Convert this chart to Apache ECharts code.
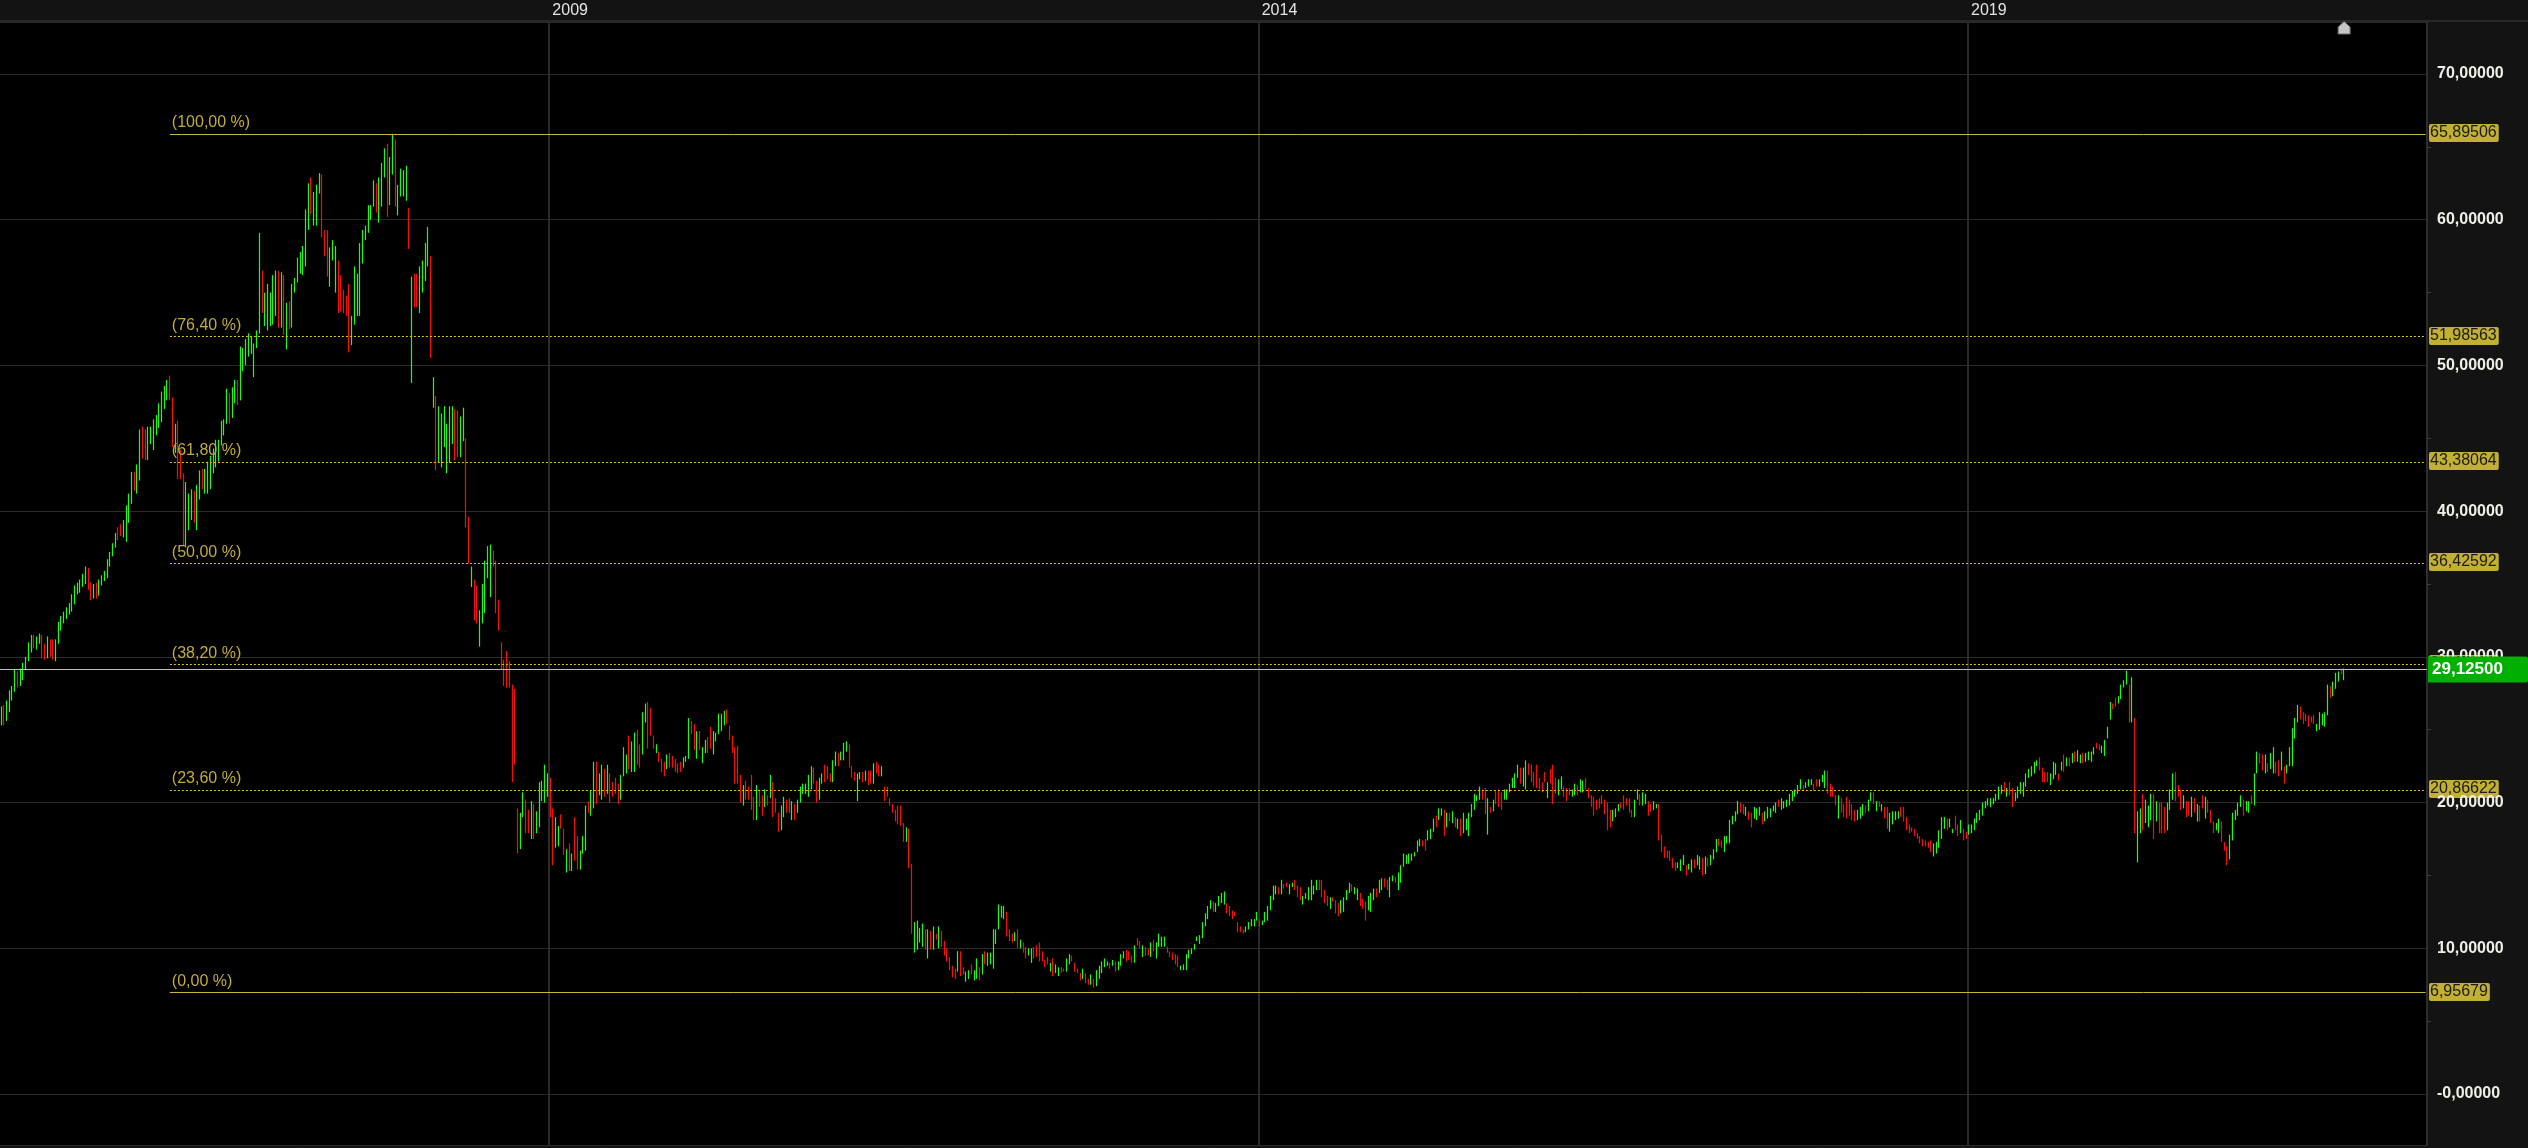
<!DOCTYPE html>
<html>
<head>
<meta charset="utf-8">
<script src="https://cdn.jsdelivr.net/npm/echarts@6/dist/echarts.min.js"></script>
<style>
html,body{margin:0;padding:0;background:#131313;overflow:hidden;}
#chart{width:2528px;height:1148px;}
</style>
</head>
<body>
<div id="chart"></div>
<script>
// ---------- DATA ----------
const startDate = [2005, 1, 18];          // first weekly bar (Feb 18, 2005)
const emptyWeeksAfter = 30;               // blank space right of the last bar
const yearTickLabels = ['2009', '2014', '2019'];

const fibPercentLabels = ['(100,00 %)', '(76,40 %)', '(61,80 %)', '(50,00 %)', '(38,20 %)', '(23,60 %)', '(0,00 %)'];
const fibValues = [65.89506, 51.98563, 43.38064, 36.42592, 29.47120, 20.86622, 6.95679];
const fibValueLabels = ['65,89506', '51,98563', '43,38064', '36,42592', '29,47120', '20,86622', '6,95679'];
const fibSolid = [true, false, false, false, false, false, true];
const fibStartBar = 62;

const lastPrice = 29.125;
const lastPriceLabel = '29,12500';

// weekly bars: [open, close, low, high]
const bars2005to2008 = [
[25.8,26.4,25.3,26.6],[26.5,25.6,25.3,26.7],[25.7,26.8,25.6,27.0],[26.6,27.5,26.2,27.7],[27.2,27.9,27.0,28.0],[27.8,28.9,27.6,29.1],[28.9,28.3,27.9,29.0],[28.2,29.0,28.0,29.2],[28.9,29.4,28.4,29.6],[29.3,29.8,29.1,30.0],
[29.8,30.8,29.7,31.0],[30.7,31.3,30.3,31.5],[31.3,30.9,30.6,31.5],[30.9,31.3,30.5,31.4],[31.2,31.4,30.9,31.6],[31.4,30.4,29.9,31.5],[30.5,30.0,29.8,30.9],[30.0,31.0,29.9,31.4],[31.0,30.3,30.0,31.2],[30.4,30.0,29.8,31.2],
[30.0,31.0,29.7,31.2],[31.0,32.2,30.9,32.4],[32.1,32.6,31.8,32.8],[32.5,33.0,32.3,33.1],[32.9,33.3,32.6,33.4],[33.2,33.5,32.9,33.7],[33.4,33.9,33.1,34.3],[33.8,34.7,33.6,34.9],[34.6,34.9,34.3,35.1],[34.8,35.1,34.4,35.3],
[35.0,35.6,34.8,35.7],[35.4,36.0,35.0,36.2],[36.0,35.0,34.6,36.1],[35.0,34.4,33.9,35.1],[34.4,34.8,34.0,35.0],[34.8,34.4,34.0,35.1],[34.4,35.1,34.2,35.3],[35.1,35.5,34.9,35.6],[35.4,35.8,35.2,35.9],[35.7,36.5,35.4,36.7],
[36.5,37.0,36.2,37.2],[37.0,37.6,36.9,37.8],[37.6,38.3,37.5,38.5],[38.6,38.2,38.0,38.9],[38.9,38.5,38.3,39.1],[38.5,39.2,38.2,39.4],[39.0,40.2,37.9,40.4],[40.0,41.0,39.2,41.2],[41.0,42.4,40.5,42.7],[42.6,41.8,41.4,42.7],
[41.8,42.9,41.2,43.2],[42.9,45.2,42.1,45.6],[45.5,44.0,43.6,45.8],[44.2,44.0,43.5,45.6],[44.0,45.5,43.5,45.8],[45.0,45.6,44.6,45.8],[44.5,45.8,44.2,46.3],[45.8,46.6,45.2,46.6],[46.5,47.2,45.7,47.4],[47.2,48.0,46.1,48.2],
[47.9,48.4,47.0,48.6],[48.2,48.8,47.6,49.0],[49.0,47.8,47.6,49.3],[47.6,44.8,44.4,47.8],[44.4,45.8,44.0,46.0],[46.0,43.5,42.2,46.2],[43.5,42.5,42.2,44.2],[42.5,39.0,37.6,42.6],[38.5,40.5,37.5,42.0],[40.3,40.8,38.7,41.2],
[40.5,41.2,39.4,41.5],[41.2,40.0,39.2,41.4],[40.0,41.5,38.7,41.8],[41.5,42.6,40.8,42.8],[42.7,41.8,41.5,42.9],[41.9,42.7,41.2,42.9],[42.5,43.3,41.2,43.4],[43.2,43.7,41.5,43.8],[43.6,44.3,42.6,44.3],[44.2,44.8,43.0,44.9],
[44.7,44.9,43.4,44.9],[44.8,45.9,44.5,46.2],[45.8,46.2,45.2,46.3],[46.1,47.6,46.0,48.4],[47.8,46.6,46.0,48.1],[46.6,48.0,46.4,48.5],[48.0,48.5,47.4,49.0],[48.8,47.8,47.3,49.0],[47.8,50.2,47.6,51.3],[50.2,50.9,49.6,51.2],
[50.8,51.5,50.0,51.8],[51.4,52.0,50.6,52.2],[51.6,51.9,50.8,52.0],[50.0,51.3,49.2,51.5],[51.3,52.2,51.2,52.4],[52.3,58.5,52.2,59.1],[56.5,54.0,53.6,56.5],[54.0,54.8,52.7,55.0],[54.4,55.2,52.4,55.6],[54.5,54.9,52.7,55.0],
[54.9,55.6,52.8,56.2],[55.0,56.2,53.4,56.5],[56.3,54.5,52.6,56.5],[54.5,56.3,52.6,56.4],[56.1,52.6,52.1,56.2],[52.4,54.0,51.1,54.3],[54.0,53.0,52.5,54.4],[53.0,55.4,52.6,55.6],[55.2,55.8,55.0,56.0],[55.8,57.2,55.7,57.4],
[57.0,57.6,56.3,57.8],[57.4,58.0,56.2,58.2],[57.8,60.5,56.8,60.7],[60.2,62.0,59.3,62.5],[62.7,60.6,60.4,62.9],[60.6,61.8,59.6,61.9],[61.6,62.3,59.6,62.4],[62.0,63.0,61.8,63.2],[63.0,59.2,58.8,63.1],[59.2,57.8,57.5,59.3],
[58.8,56.5,56.1,59.3],[56.4,57.8,55.4,58.1],[57.7,58.2,57.2,58.6],[57.6,58.0,55.0,58.2],[57.2,54.0,53.6,57.2],[55.5,54.2,53.7,56.2],[55.0,53.8,53.6,55.2],[54.6,53.7,53.4,54.8],[55.4,51.5,50.9,55.6],[51.5,53.0,51.4,53.4],
[53.0,56.2,52.8,56.8],[54.0,56.0,53.4,56.3],[54.5,58.0,53.4,58.4],[57.5,59.0,57.0,59.3],[58.9,59.5,58.6,59.6],[59.3,60.7,59.1,61.0],[60.4,60.9,60.0,61.0],[60.9,62.4,60.9,62.7],[62.4,61.0,60.5,62.5],[60.5,62.6,59.8,62.9],
[62.0,63.6,60.9,63.9],[63.0,64.5,62.9,64.9],[65.0,61.0,60.2,65.2],[61.0,63.5,61.0,64.3],[63.2,65.5,63.1,65.9],[65.3,61.5,60.9,65.5],[61.0,62.2,60.3,62.4],[62.0,63.3,61.6,63.5],[62.5,63.2,61.6,63.4],[62.0,63.5,61.3,63.7],
[60.8,58.0,58.0,60.8],[50.0,55.5,48.8,56.1],[55.8,54.2,54.0,56.3],[56.0,54.2,54.0,56.3],[54.0,56.5,53.6,56.8],[55.5,56.9,55.0,57.2],[56.0,58.2,55.8,58.4],[57.0,59.2,56.8,59.5],[57.3,51.0,50.5,57.5],[47.5,48.8,47.1,49.2],
[47.6,43.5,42.8,47.9],[43.5,46.8,43.3,47.2],[44.5,46.0,43.0,46.7],[45.0,46.8,44.4,47.2],[43.0,45.5,42.6,46.0],[44.0,46.8,43.3,47.2],[45.5,46.9,44.6,47.2],[46.8,44.0,43.5,47.0],[46.5,44.5,43.7,46.9],[44.0,46.0,43.7,46.5],
[45.0,46.8,44.8,47.1],[44.9,39.3,38.9,45.0],[39.4,36.6,36.4,39.6],[35.0,36.0,34.8,36.2],[35.2,32.8,32.5,35.3],[34.8,32.8,32.3,34.9],[31.0,33.0,30.7,33.2],[32.5,34.3,32.3,35.0],[33.5,35.5,33.0,36.6],[35.5,37.3,35.4,37.6],
[35.0,37.0,34.1,37.7],[37.2,36.4,36.2,37.3],[36.5,33.5,33.0,36.6],[33.8,32.0,31.8,33.9],[31.0,29.5,29.1,31.0],[29.6,28.4,28.0,29.8],[30.0,28.2,27.9,30.4],[28.8,28.2,27.9,29.7]
];
const bars2008to2014 = [
[28.0,21.8,21.4,28.1],[27.5,23.0,22.6,27.8],[19.6,16.9,16.5,19.6],[17.0,19.2,16.8,19.3],[19.1,20.5,19.0,20.7],[20.2,18.2,17.9,20.2],[19.4,18.0,17.9,19.5],[17.6,19.8,17.5,20.1],[19.8,17.8,17.5,19.9],[18.0,19.0,17.9,19.4],
[18.8,21.2,18.3,21.4],[20.4,21.3,20.1,21.5],[20.2,22.4,20.0,22.6],[21.0,21.8,20.4,22.0],[21.6,19.4,19.0,21.7],[19.6,16.2,15.7,19.6],[17.0,18.8,16.9,19.0],[17.5,18.2,17.0,18.4],[19.1,18.3,18.2,19.2],[18.2,16.6,16.4,18.2],
[15.4,16.6,15.2,16.8],[16.7,15.6,15.3,17.2],[15.6,16.4,15.3,16.5],[18.8,16.3,16.0,19.0],[17.6,15.7,15.4,17.7],[15.5,16.6,15.4,16.7],[16.5,17.6,16.5,17.7],[17.0,19.6,16.7,19.8],[20.1,19.4,19.3,20.1],[19.4,20.6,19.1,20.8],
[20.3,22.6,19.6,22.8],[22.6,20.5,19.9,22.8],[20.5,21.8,20.5,22.0],[21.0,22.4,20.2,22.6],[22.0,21.0,20.4,22.3],[20.8,22.5,20.6,22.6],[22.0,20.5,20.0,22.0],[21.2,20.6,20.4,21.4],[21.6,20.7,20.6,21.7],[21.3,20.1,19.9,21.3],
[20.2,21.7,20.2,21.9],[21.8,23.6,21.8,23.8],[22.2,23.0,22.0,23.3],[24.5,22.5,22.3,24.6],[22.3,24.0,22.1,24.2],[23.0,24.5,22.1,24.8],[24.5,22.8,22.6,25.0],[23.5,22.8,22.4,24.0],[23.5,26.0,23.3,26.2],[25.5,26.6,25.5,26.8],
[26.9,24.0,23.7,26.9],[26.4,24.8,24.6,26.5],[24.5,23.8,23.7,24.6],[23.6,23.9,23.4,24.0],[23.5,22.9,22.8,23.5],[23.0,22.3,22.1,23.0],[22.8,22.0,21.8,22.8],[22.4,23.2,22.3,23.3],[23.3,22.5,22.4,23.4],[23.1,22.6,22.4,23.2],
[22.9,22.2,22.1,23.0],[22.6,22.2,22.0,22.7],[22.8,22.4,22.1,22.8],[22.4,23.0,22.4,23.1],[22.8,23.1,22.8,23.2],[23.0,25.6,23.0,25.8],[25.6,24.8,24.7,25.6],[25.4,23.9,23.6,25.4],[23.0,24.5,23.0,24.9],[24.9,23.8,23.6,24.9],
[22.8,23.6,22.7,23.8],[23.4,24.2,23.4,24.3],[24.4,23.4,23.4,24.5],[25.2,24.0,23.7,25.2],[23.5,24.8,23.3,24.9],[24.4,24.8,24.2,24.8],[24.8,26.0,24.7,26.1],[24.9,25.9,24.9,26.1],[25.4,26.2,25.3,26.3],[26.4,25.5,25.4,26.4],
[25.3,24.5,24.3,25.3],[24.6,23.5,23.4,24.6],[23.8,21.5,21.3,23.8],[23.5,21.6,21.3,23.9],[21.5,20.0,20.0,21.9],[19.9,21.0,19.8,21.2],[21.5,20.3,20.2,21.5],[21.1,20.3,20.2,21.1],[21.8,19.7,19.5,21.9],[20.3,18.9,18.8,20.4],
[18.8,20.9,18.8,21.2],[20.7,19.8,19.7,20.9],[20.4,19.2,19.1,20.5],[19.8,20.8,19.7,20.9],[20.4,19.9,19.8,20.5],[20.4,21.7,20.3,21.9],[21.4,19.2,19.0,21.4],[20.3,19.4,19.3,20.3],[19.2,18.0,18.0,19.3],[18.2,19.7,18.1,19.8],
[19.3,20.2,19.0,20.4],[20.1,19.4,19.3,20.2],[20.2,19.3,19.3,20.3],[18.9,20.0,18.8,20.1],[19.8,18.9,18.8,19.9],[19.4,20.1,19.3,20.2],[20.0,21.0,20.0,21.1],[20.6,21.1,20.6,21.3],[20.8,21.2,20.6,21.3],[21.0,21.8,20.4,21.9],
[21.6,22.5,20.9,22.5],[22.4,21.5,21.3,22.4],[21.5,20.1,20.0,21.5],[20.3,21.5,20.2,21.7],[21.5,22.0,21.3,22.0],[22.5,21.6,21.4,22.6],[22.3,21.7,21.6,22.5],[21.8,21.5,21.4,22.0],[21.5,22.7,21.4,22.9],[22.7,23.3,22.5,23.5],
[23.3,22.8,22.5,23.4],[22.9,23.4,22.9,23.5],[23.0,24.0,22.9,24.1],[23.5,24.1,23.5,24.2],[24.0,22.5,22.4,24.0],[22.3,21.7,21.7,22.5],[22.0,21.6,21.5,22.1],[20.1,21.8,20.1,22.0],[21.7,22.0,21.6,22.1],[22.1,21.4,21.4,22.1],
[21.5,22.0,21.5,22.2],[22.2,21.2,21.2,22.2],[22.0,21.4,21.3,22.2],[21.3,22.6,21.3,22.7],[22.7,22.1,22.0,22.8],[22.5,21.9,21.8,22.6],[21.9,22.5,21.8,22.5],[21.0,20.2,20.1,21.1],[21.0,20.5,20.4,21.1],[20.2,19.9,19.8,20.3],
[19.9,19.4,19.3,19.9],[19.4,18.8,18.7,19.5],[19.6,18.6,18.5,19.8],[19.7,18.4,18.4,19.8],[18.5,17.4,17.3,18.6],[17.3,18.2,17.3,18.3],[18.0,15.6,15.5,18.2],[15.8,11.5,11.0,15.8],[10.0,11.6,9.7,11.8],[10.3,11.7,9.9,11.9],
[10.6,11.2,10.4,11.4],[10.5,11.5,10.1,11.7],[11.2,10.2,9.9,11.3],[9.7,11.2,9.3,11.3],[11.1,10.0,9.9,11.2],[10.0,11.2,9.9,11.5],[11.0,10.7,10.6,11.0],[10.2,11.4,10.0,11.5],[11.1,10.2,10.1,11.2],[10.3,9.6,9.5,10.5],
[10.0,9.2,9.1,10.0],[9.4,8.6,8.5,9.4],[8.7,8.1,8.0,8.8],[8.5,8.0,7.9,8.6],[8.5,9.6,8.4,9.8],[9.7,8.2,8.1,9.8],[8.6,8.3,8.2,8.7],[7.9,8.2,7.7,8.4],[8.0,8.3,7.9,8.5],[8.8,8.3,8.2,8.9],
[7.9,8.4,7.8,8.5],[8.0,9.1,7.9,9.3],[8.6,8.0,7.8,8.7],[8.2,9.3,8.2,9.6],[9.6,9.0,8.9,9.8],[8.9,9.5,8.8,9.7],[9.0,9.5,8.9,9.7],[8.8,11.2,8.6,11.3],[10.5,11.2,10.3,11.3],[11.4,12.8,11.3,13.0],
[12.2,12.8,12.1,12.9],[12.2,12.8,12.0,12.9],[12.5,11.0,10.8,12.5],[11.2,10.6,10.5,11.3],[11.0,10.5,10.4,11.0],[10.5,11.0,10.5,11.1],[11.2,10.2,10.0,11.3],[10.0,10.5,10.0,10.6],[10.4,9.9,9.7,10.4],[10.0,9.5,9.3,10.1],
[9.6,9.9,9.5,10.0],[9.4,10.0,9.0,10.0],[10.0,9.5,9.3,10.1],[10.2,9.6,9.4,10.2],[10.3,9.2,9.1,10.4],[9.6,9.2,9.1,9.8],[9.2,8.8,8.7,9.2],[9.4,8.9,8.9,9.4],[8.6,9.0,8.4,9.0],[9.2,8.2,8.1,9.3],
[8.4,8.8,8.3,8.9],[8.2,8.7,8.1,8.7],[8.7,8.4,8.3,8.7],[8.6,8.4,8.4,8.6],[8.4,9.2,8.4,9.3],[9.0,9.6,8.9,9.6],[9.4,9.1,9.1,9.5],[8.9,8.6,8.4,9.0],[8.6,8.3,8.3,8.6],[8.3,7.9,7.8,8.3],
[7.9,8.5,7.9,8.6],[8.3,7.7,7.6,8.3],[7.9,7.6,7.5,7.9],[7.6,8.1,7.5,8.2],[7.9,7.5,7.3,7.9],[7.5,8.4,7.4,8.5],[7.9,8.6,7.9,8.8],[8.3,9.0,8.3,9.1],[8.8,9.3,8.7,9.3],[8.9,9.1,8.8,9.1],
[9.0,8.8,8.6,9.0],[8.9,9.2,8.8,9.2],[9.1,8.6,8.4,9.1],[8.7,9.0,8.5,9.1],[8.9,9.5,8.8,9.6],[9.4,9.7,9.3,9.8],[9.8,9.2,9.1,9.9],[9.6,9.3,9.2,9.8],[9.5,9.0,9.0,9.5],[9.0,10.0,9.0,10.2],
[10.5,10.2,10.2,10.7],[10.4,10.0,10.0,10.5],[9.5,10.2,9.4,10.2],[10.1,9.6,9.5,10.1],[10.0,9.6,9.5,10.0],[9.5,10.3,9.4,10.4],[10.5,9.8,9.8,10.6],[9.4,10.3,9.3,10.4],[10.2,10.9,10.1,11.0],[10.4,10.8,10.1,10.8],
[10.4,10.8,10.1,10.8],[10.0,9.7,9.7,10.1],[9.8,9.5,9.4,9.8],[9.7,9.3,9.2,9.7],[9.5,9.0,8.9,9.6],[9.3,8.9,8.7,9.5],[8.5,8.7,8.5,8.8],[8.6,8.8,8.5,8.9],[8.6,9.4,8.5,9.6],[9.4,9.8,9.3,9.9],
[9.7,9.9,9.6,10.0],[9.9,10.3,9.9,10.3],[10.5,10.8,10.5,10.8],[10.4,10.9,10.3,10.9],[10.8,11.6,10.7,11.8],[11.5,12.2,11.5,12.4],[12.0,12.8,12.0,12.9],[12.8,13.2,12.7,13.3],[13.2,12.6,12.5,13.2],[12.6,13.0,12.5,13.1],
[12.9,13.4,12.9,13.6],[13.3,13.7,13.1,13.8],[13.2,13.8,13.0,13.9],[13.0,12.5,12.4,13.1],[12.8,12.3,12.2,12.9],[12.5,12.2,12.0,12.6],[12.4,12.2,12.2,12.5],[11.8,11.2,11.1,11.8],[11.4,11.2,11.1,11.5],[11.3,11.0,11.0,11.3],
[11.1,11.4,11.1,11.5],[11.4,11.7,11.3,11.8],[11.6,11.9,11.5,12.0],[11.6,11.9,11.5,12.0],[12.0,12.4,11.9,12.5],[12.0,11.6,11.5,12.0],[11.6,11.8,11.6,11.9],[11.8,12.4,11.8,12.5],[12.2,12.8,11.9,12.9],[12.6,13.4,12.6,13.6],
[13.3,14.1,13.3,14.3],[13.8,14.2,13.7,14.3],[14.2,13.8,13.7,14.2],[13.8,14.5,13.7,14.7],[14.4,14.1,14.1,14.4],[14.4,14.2,14.2,14.5],[13.8,14.3,13.7,14.4],[14.3,14.4,14.2,14.5]
];
const bars2014to2016 = [
[14.6,14.2,14.0,14.7],[14.3,13.7,13.5,14.3],[14.0,13.5,13.3,14.2],[13.1,13.5,13.0,13.6],[13.5,13.7,13.4,13.8],[13.4,14.1,13.3,14.2],[13.4,14.5,13.3,14.7],[13.8,14.2,13.7,14.3],[14.1,14.6,14.0,14.7],[14.7,14.2,14.0,14.7],
[14.6,13.7,13.5,14.7],[13.9,13.2,13.1,14.0],[13.5,13.0,12.9,13.6],[12.8,13.4,12.7,13.5],[13.5,13.2,13.2,13.5],[13.3,12.5,12.4,13.3],[13.0,12.3,12.2,13.1],[12.4,13.2,12.4,13.3],[12.6,13.4,12.5,13.5],[13.4,13.9,13.3,14.0],
[13.8,14.3,13.8,14.5],[14.4,14.0,13.9,14.4],[13.8,14.2,13.7,14.2],[13.4,14.0,13.3,14.1],[13.8,13.0,12.9,13.8],[13.3,12.8,12.7,13.4],[13.1,12.1,11.9,13.2],[12.6,13.5,12.6,13.6],[12.8,13.6,12.5,13.8],[13.5,14.0,13.3,14.1],
[14.1,13.7,13.5,14.1],[13.8,14.5,13.8,14.7],[14.2,14.7,14.0,14.8],[14.8,14.4,14.2,14.8],[14.6,14.1,14.0,14.7],[13.8,14.8,13.5,14.9],[14.6,14.9,14.6,15.0],[14.9,14.6,14.5,14.9],[14.2,15.0,14.0,15.2],[14.6,15.6,14.5,15.7],
[15.8,16.3,15.6,16.5],[15.9,16.3,15.8,16.4],[16.0,16.4,15.8,16.5],[16.1,16.4,16.0,16.5],[16.3,16.6,16.3,16.6],[16.8,17.3,16.6,17.4],[17.1,17.5,17.0,17.5],[17.4,17.1,17.0,17.4],[17.5,16.9,16.7,17.5],[17.5,18.0,17.4,18.1],
[17.6,18.1,17.5,18.2],[18.0,18.8,18.0,18.9],[19.0,18.5,18.3,19.1],[18.9,19.5,18.8,19.6],[19.2,19.6,19.1,19.6],[19.5,18.0,17.7,19.5],[18.4,19.0,18.3,19.3],[19.2,18.8,18.7,19.3],[18.8,19.3,18.6,19.4],[19.0,18.4,18.3,19.0],
[18.3,18.8,18.2,18.9],[18.8,17.8,17.7,18.9],[17.9,19.1,17.9,19.3],[18.2,18.9,18.1,18.9],[18.0,19.0,17.7,19.3],[19.0,19.8,19.0,19.9],[19.6,20.4,19.5,20.6],[20.1,20.5,20.1,20.5],[20.3,20.9,20.2,21.1],[20.9,20.3,20.2,20.9],
[20.9,19.3,19.2,21.0],[17.9,20.0,17.8,20.3],[19.6,19.3,19.3,19.7],[19.4,20.0,19.4,20.2],[20.7,20.1,19.9,20.8],[20.8,19.8,19.7,20.9],[20.7,19.6,19.5,20.7],[20.2,20.7,20.2,20.9],[20.3,20.8,20.2,20.9],[20.8,21.2,20.7,21.3],
[21.1,21.5,21.0,21.7],[21.0,21.9,21.0,22.0],[21.7,22.4,21.7,22.6],[22.4,21.6,21.3,22.4],[21.2,22.2,21.1,22.4],[21.4,22.7,20.9,22.9],[22.7,22.0,21.9,22.7],[22.5,21.6,21.4,22.6],[22.0,21.2,21.1,22.1],[22.5,21.2,21.0,22.6],
[21.6,21.0,20.9,21.7],[21.4,20.8,20.7,21.4],[22.0,21.6,21.4,22.1],[20.3,21.2,20.3,21.4],[22.2,21.3,21.3,22.3],[22.5,20.2,19.9,22.6],[21.6,20.7,20.6,21.7],[20.6,21.5,20.5,21.6],[21.0,21.7,20.9,21.8],[21.1,20.5,20.4,21.1],
[21.0,20.2,20.1,21.0],[20.9,20.5,20.5,21.0],[20.5,20.8,20.4,20.9],[20.6,21.1,20.5,21.3],[21.2,20.6,20.5,21.2],[20.9,21.5,20.7,21.6],[21.0,21.4,20.7,21.5],[21.6,21.0,20.9,21.7],[21.0,20.4,20.3,21.0],[20.5,19.8,19.7,20.5],
[20.4,19.2,19.1,20.4],[20.1,19.6,19.5,20.2],[20.2,19.7,19.6,20.3],[20.4,20.0,19.9,20.5],[20.1,19.3,19.2,20.2],[19.9,18.3,18.1,20.0],[19.5,18.5,18.3,19.5],[18.8,19.3,18.7,19.5],[19.2,19.5,19.0,19.6],[19.4,19.8,19.4,19.9],
[20.0,19.7,19.6,20.0],[20.4,19.7,19.5,20.5],[20.2,19.9,19.8,20.3],[20.2,19.3,19.3,20.3],[19.4,19.1,19.0,19.5],[19.0,20.0,19.0,20.2],[20.3,20.7,20.2,20.9],[20.6,20.0,19.8,20.6],[19.9,20.5,19.8,20.7],[20.0,20.6,19.9,20.6],
[20.0,19.3,19.1,20.1],[19.8,19.5,19.4,19.9],[19.5,19.9,19.5,20.1],[19.6,19.9,19.6,19.9]
];
const bars2016to2019 = [
[19.9,17.6,17.4,19.9],[17.7,16.8,16.6,17.8],[16.9,16.3,16.2,17.0],[16.7,16.2,16.2,16.7],[16.7,16.1,16.0,16.7],[16.1,15.6,15.5,16.2],[15.9,15.3,15.3,15.9],[15.6,15.9,15.5,15.9],[15.4,16.0,15.3,16.1],[15.9,16.3,15.7,16.4],
[15.7,15.1,15.0,15.7],[15.4,15.8,15.4,15.8],[15.3,16.0,15.2,16.1],[16.1,15.6,15.5,16.1],[15.9,16.4,15.7,16.4],[15.6,16.2,15.4,16.3],[16.2,15.3,15.0,16.2],[15.2,16.1,15.1,16.3],[16.2,15.8,15.6,16.2],[15.8,16.2,15.7,16.4],
[16.1,16.6,16.1,16.8],[16.7,17.4,16.6,17.5],[17.5,17.1,17.0,17.5],[17.3,16.9,16.9,17.4],[16.8,17.5,16.6,17.7],[17.3,17.6,17.2,17.7],[17.5,18.6,17.2,18.8],[18.6,19.0,18.5,19.1],[18.8,19.2,18.7,19.4],[19.2,19.9,19.2,20.1],
[20.0,19.4,19.3,20.0],[19.8,19.3,19.2,19.9],[19.3,19.6,19.1,19.7],[19.4,18.9,18.8,19.4],[19.2,18.5,18.3,19.3],[18.9,19.5,18.9,19.7],[19.0,19.4,18.8,19.6],[19.3,19.6,19.1,19.7],[19.2,18.7,18.5,19.3],[18.7,19.2,18.7,19.4],
[19.2,19.6,18.9,19.7],[19.2,19.6,19.0,19.6],[19.5,19.7,19.4,19.8],[19.4,19.9,19.3,20.0],[20.2,19.8,19.7,20.2],[19.6,20.2,19.5,20.3],[19.8,20.0,19.6,20.1],[19.9,20.1,19.7,20.2],[20.0,20.6,19.8,20.6],[20.2,20.7,20.1,20.8],
[20.4,20.9,20.4,20.9],[20.7,21.1,20.6,21.2],[21.1,21.5,20.9,21.6],[21.2,20.9,20.8,21.2],[21.0,21.3,21.0,21.4],[21.2,21.5,21.1,21.6],[21.3,21.6,21.2,21.6],[21.3,20.9,20.8,21.3],[21.6,21.2,21.1,21.6],[21.2,21.5,21.1,21.6],
[21.5,21.8,21.4,21.9],[21.0,22.1,21.0,22.2],[22.2,21.0,20.6,22.2],[21.3,20.8,20.4,21.3],[21.0,20.5,20.4,21.1],[20.5,20.0,19.8,20.5],[19.0,20.0,18.9,20.5],[20.3,19.4,19.3,20.3],[19.8,19.2,19.0,19.9],[20.2,19.0,18.9,20.4],
[20.0,19.3,19.1,20.2],[19.8,18.9,18.8,19.9],[19.4,18.7,18.7,19.5],[18.8,19.4,18.8,19.5],[19.1,19.6,18.9,19.7],[19.3,19.9,19.1,19.9],[19.8,19.4,19.3,19.8],[19.5,20.1,19.4,20.2],[20.1,20.6,20.1,20.7],[20.7,20.2,19.9,20.7],
[19.4,19.9,19.4,20.1],[20.0,19.7,19.7,20.1],[19.4,19.7,19.4,19.9],[19.7,19.1,18.9,19.7],[19.7,18.5,18.2,19.7],[18.1,18.9,18.0,19.3],[18.5,19.0,18.5,19.4],[18.9,19.3,18.8,19.4],[19.0,19.3,18.9,19.4],[19.7,19.3,19.0,19.7],
[19.7,18.8,18.7,19.7],[19.0,18.3,18.1,19.0],[18.4,17.9,17.9,18.5],[18.2,18.0,18.0,18.3],[18.1,17.7,17.7,18.2],[17.9,17.6,17.5,17.9],[17.6,17.3,17.2,17.7],[17.4,17.0,17.0,17.5],[17.3,17.0,17.0,17.4],[17.2,16.9,16.9,17.3],
[17.4,16.7,16.6,17.4],[16.5,17.0,16.3,17.2],[16.6,17.1,16.5,17.3],[17.0,18.0,16.9,18.1],[17.9,18.9,17.5,19.0],[18.4,18.9,18.2,19.0],[18.9,18.4,18.1,18.9],[18.4,18.8,18.3,18.9],[18.0,18.2,17.9,18.2],[19.0,18.2,18.1,19.1],
[18.5,17.8,17.7,18.5],[17.9,18.5,17.9,18.8],[18.2,17.6,17.4,18.2],[17.9,17.6,17.5,18.0],[17.8,18.4,17.8,18.5]
];
const bars2019to2020 = [
[18.0,18.3,17.9,18.5],[18.2,18.8,18.1,18.9],[18.6,19.1,18.6,19.3],[18.9,19.4,18.8,19.5],[19.2,19.8,19.1,20.0],[19.8,20.0,19.6,20.1],[20.0,20.3,19.8,20.3],[19.9,20.2,19.7,20.3],[20.0,20.2,19.9,20.3],
[20.2,20.6,20.1,20.6],[20.5,21.0,20.2,21.1],[20.8,21.1,20.6,21.2],[21.3,21.0,20.7,21.4],[20.6,20.9,20.4,21.0],[21.2,20.7,20.5,21.4],[20.9,19.9,19.7,21.0],[20.1,20.6,20.1,20.7],[20.4,21.0,20.3,21.1],[20.8,21.3,20.6,21.4],
[20.6,21.3,20.4,21.4],[21.3,21.8,21.1,22.0],[21.9,22.3,21.7,22.3],[22.0,22.4,21.8,22.5],[22.2,22.7,22.0,22.8],[22.5,22.9,22.5,22.9],[23.0,22.4,22.2,23.1],[22.3,21.6,21.4,22.4],[22.0,21.5,21.4,22.1],[22.0,21.5,21.4,22.1],
[21.3,21.8,21.2,22.0],[21.8,22.6,21.6,22.8],[22.0,22.6,21.9,22.7],[22.0,21.6,21.5,22.0],[22.2,22.7,22.2,22.8],[23.1,22.3,22.1,23.3],[22.5,23.0,22.5,23.1],[23.1,22.6,22.5,23.1],[22.8,23.3,22.7,23.4],[23.5,23.0,22.8,23.5],
[22.9,23.5,22.8,23.6],[22.8,23.2,22.7,23.3],[23.3,22.9,22.7,23.4],[22.9,23.3,22.8,23.4],[23.1,23.5,22.9,23.5],[22.9,23.4,22.8,23.5],[23.4,23.8,23.3,23.8],[24.1,23.8,23.7,24.1],[23.9,23.7,23.6,24.0],[23.5,23.9,23.4,23.9],
[23.3,24.2,23.2,24.3],[24.4,24.9,24.4,25.2],[25.7,26.8,25.7,26.9],[26.8,26.5,26.4,26.8],[27.1,26.6,26.6,27.2],[26.8,27.2,26.8,27.3],[27.2,28.0,27.1,28.1],[27.9,28.3,27.9,28.4],[28.2,28.9,28.1,29.05],
[28.1,25.8,25.5,28.1],[25.5,28.0,25.5,28.6],[25.8,18.2,17.9,25.8],[16.5,19.0,15.9,19.4]
];
const bars2020to2021 = [
[18.2,19.2,17.9,19.6],[20.3,18.4,18.1,20.6],[18.8,19.9,18.6,20.2],[18.5,19.5,18.3,19.8],[19.2,20.3,18.8,20.6],[20.3,17.8,17.5,20.6],[18.9,19.8,18.7,20.1],[19.8,18.2,17.9,20.0],[19.6,18.4,17.9,20.0],[19.5,18.1,17.9,19.7],
[18.3,19.6,18.1,20.0],[19.6,20.7,19.5,20.9],[20.5,21.8,20.2,22.0],[21.9,20.4,20.1,22.1],[21.1,20.5,20.4,21.2],[20.8,19.8,19.5,20.9],[19.7,20.4,19.6,20.5],[20.0,19.3,19.0,20.1],[20.0,19.2,19.1,20.1],[19.1,20.2,19.0,20.4],
[20.2,19.5,19.3,20.3],[18.9,19.8,18.7,19.9],[19.7,18.9,18.7,19.8],[20.4,19.8,19.6,20.5],[19.1,20.2,18.9,20.4],[20.1,19.4,19.3,20.2],[19.4,18.8,18.6,19.5],[18.6,18.0,17.9,18.7],[18.1,18.5,18.1,18.6],[18.0,18.8,17.9,18.9],
[18.6,17.5,17.3,18.7],[17.3,16.8,16.7,17.3],[16.9,15.9,15.7,17.0],[16.2,17.6,16.1,17.8],[17.6,19.1,17.4,19.3],[18.9,19.4,18.8,19.5],[19.3,19.9,19.1,20.0],[19.8,20.4,19.7,20.5],[20.1,19.3,19.1,20.2],[19.5,20.0,19.4,20.1],
[19.4,19.9,19.3,20.1],[20.5,20.0,19.9,20.5],[20.0,21.8,19.8,22.0],[22.0,23.3,22.0,23.5],[23.4,22.8,22.7,23.4],[23.2,22.4,22.2,23.3],[22.2,23.1,22.0,23.3],[22.7,22.2,22.1,22.7],[22.4,23.2,22.3,23.4],[22.3,23.6,22.0,23.8],
[22.8,22.1,22.0,22.8],[22.8,22.0,21.8,22.9],[22.3,23.3,22.2,23.5],[22.4,21.5,21.3,22.5],[22.1,22.5,22.0,22.6],[22.6,23.6,22.5,23.8],[23.0,24.9,22.5,25.1],[24.5,25.6,24.4,25.8],[25.6,26.5,25.5,26.7],[26.5,25.8,25.7,26.6],
[26.2,25.6,25.4,26.2],[26.0,25.7,25.6,26.1],[25.9,25.4,25.2,26.0],[25.9,25.6,25.5,25.9],[26.0,25.6,25.4,26.0],[24.9,25.3,24.9,25.4],[25.1,26.0,25.0,26.2],[25.4,26.0,25.3,26.1],[25.4,26.1,25.2,26.2],[26.1,27.9,26.0,28.1],
[28.0,27.3,27.2,28.0],[27.4,28.1,27.3,28.3],[27.9,28.7,27.8,28.9],[28.4,28.9,28.3,29.0],[29.1,28.9,28.8,29.2],[28.6,29.125,28.4,29.2]
];

// ---------- BUILD ----------
const bars = [].concat(bars2005to2008, bars2008to2014, bars2014to2016, bars2016to2019, bars2019to2020, bars2020to2021);
const nCats = bars.length + emptyWeeksAfter;
const t0 = Date.UTC(startDate[0], startDate[1], startDate[2]);
const categories = [];
for (let k = 0; k < nCats; k++) {
  const d = new Date(t0 + k * 7 * 86400000);
  categories.push(d.toISOString().slice(0, 10));
}
const yearStart = new Set();
for (let k = 1; k < nCats; k++) {
  const y = categories[k].slice(0, 4);
  if (y !== categories[k - 1].slice(0, 4) && yearTickLabels.indexOf(y) >= 0) yearStart.add(k);
}

const FONT = 'Liberation Sans, Arial, sans-serif';
const GREEN = '#14ff14';
const RED = '#ff0a0a';

const fibMarkLines = fibValues.map((v, k) => ([
  {
    coord: [categories[fibStartBar], v],
    lineStyle: { color: fibSolid[k] ? '#c9b53e' : '#dcc425', type: fibSolid[k] ? 'solid' : [2, 2], width: 1 },
    label: { show: true, position: 'insideStartTop', formatter: fibPercentLabels[k], color: '#c2aa3c', fontSize: 16, fontFamily: FONT, distance: [2, 3] }
  },
  { coord: [categories[nCats - 1], v] }
]));

const chart = echarts.init(document.getElementById('chart'), null, { renderer: 'canvas' });
const option = {
  backgroundColor: '#131313',
  animation: false,
  grid: { left: 0, right: 101, top: 22, bottom: 3, show: true, backgroundColor: '#000000', borderWidth: 0 },
  xAxis: {
    type: 'category', data: categories, position: 'top', boundaryGap: true,
    axisLine: { show: false }, axisTick: { show: false },
    axisLabel: {
      interval: (i) => yearStart.has(i),
      formatter: (v) => v.slice(0, 4),
      color: '#e4e4e4', fontSize: 16, fontFamily: FONT, align: 'left', margin: 3, padding: [0, 0, 0, 2]
    },
    splitLine: { show: true, interval: (i) => yearStart.has(i), lineStyle: { color: '#2a2a2a', width: 2 } }
  },
  yAxis: {
    type: 'value', position: 'right', min: -3.5, max: 73.57, splitNumber: 8, minInterval: 10, maxInterval: 10,
    axisLine: { show: true, lineStyle: { color: '#2e2e2e', width: 2 } },
    axisTick: { show: false },
    minorTick: { show: true, splitNumber: 2, length: 4, lineStyle: { color: '#3c3c3c' } },
    axisLabel: {
      showMinLabel: false, showMaxLabel: false, margin: 10,
      formatter: (v) => (v === 0 ? '-0,00000' : v.toFixed(5).replace('.', ',')),
      color: '#efefe6', fontSize: 16, fontWeight: 'bold', fontFamily: FONT
    },
    splitLine: { show: true, lineStyle: { color: '#2b2b2b', width: 1 } }
  },
  series: [{
    type: 'candlestick', data: bars, large: false, barWidth: 1,
    itemStyle: { color: GREEN, color0: RED, borderColor: GREEN, borderColor0: RED, borderWidth: 1.2 },
    markLine: {
      silent: true, symbol: ['none', 'none'], animation: false,
      data: fibMarkLines.concat([
        { yAxis: lastPrice, lineStyle: { color: '#bdbdbd', type: 'solid', width: 1 }, label: { show: false } }
      ])
    }
  }]
};
chart.setOption(option);

// ---------- axis boxes (positioned through the chart's own scales) ----------
const gfx = [];
gfx.push({ type: 'rect', shape: { x: 0, y: 20, width: 2528, height: 2 }, style: { fill: '#282828' }, z: 5 });
fibValues.forEach((v, k) => {
  const y = chart.convertToPixel({ yAxisIndex: 0 }, v);
  gfx.push({
    type: 'text', x: 2429, y: Math.round(y) - 1, z: -1,
    style: { text: fibValueLabels[k], font: '16px ' + FONT, fill: '#1c1c1c', verticalAlign: 'middle', align: 'left',
             backgroundColor: '#c2b034', padding: [1, 2, 0, 1], borderRadius: 2, lineHeight: 17 }
  });
});
const yLast = chart.convertToPixel({ yAxisIndex: 0 }, lastPrice);
gfx.push({ type: 'rect', z: 20, shape: { x: 2428, y: yLast - 13, width: 100, height: 26, r: [0, 3, 3, 0] }, style: { fill: '#00b000' } });
gfx.push({ type: 'text', z: 21, x: 2432, y: yLast, style: { text: lastPriceLabel, font: 'bold 17px ' + FONT, fill: '#ffffff', verticalAlign: 'middle', align: 'left' } });
const xLast = chart.convertToPixel({ xAxisIndex: 0 }, categories[bars.length - 1]);
gfx.push({ type: 'polygon', z: 20, shape: { points: [[xLast - 6, 34], [xLast - 6, 27], [xLast, 21.5], [xLast + 6, 27], [xLast + 6, 34]] },
           style: { fill: '#c6c6c6', stroke: '#6a6a6a', lineWidth: 1 } });
chart.setOption({ graphic: { elements: gfx } });
</script>
</body>
</html>
